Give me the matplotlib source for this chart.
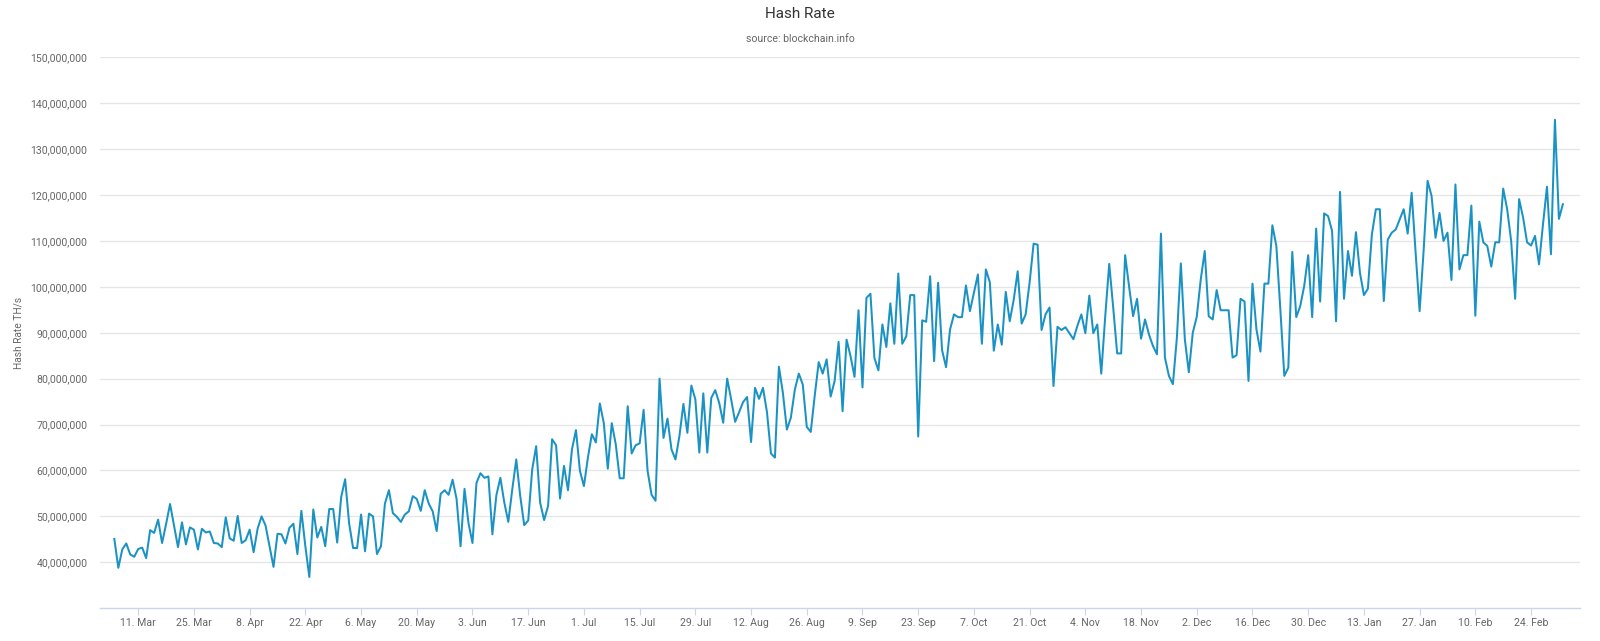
import matplotlib
matplotlib.use('Agg')
import matplotlib.pyplot as plt
import numpy as np
import pandas as pd
from matplotlib.ticker import FuncFormatter

plt.rcParams['font.family'] = ['Roboto', 'DejaVu Sans']

# ---------------- data ----------------
start_date = '2018-03-05'
# daily hash rate, millions of TH/s
hash_rate_millions = [
    45.1, 38.8, 42.8, 44.1, 41.7, 41.2, 42.9, 43.2, 40.9, 47.0,
    46.4, 49.3, 44.2, 48.3, 52.7, 48.0, 43.3, 48.7, 43.9, 47.6,
    47.1, 42.8, 47.3, 46.5, 46.7, 44.2, 44.1, 43.3, 49.8, 45.2,
    44.7, 50.1, 44.2, 44.8, 47.1, 42.2, 47.3, 50.0, 48.0, 43.5,
    39.0, 46.2, 46.1, 44.1, 47.5, 48.4, 41.8, 51.2, 43.5, 36.8,
    51.5, 45.4, 47.7, 43.5, 51.6, 51.6, 44.3, 54.2, 58.1, 48.5,
    43.1, 43.1, 50.4, 42.4, 50.6, 50.0, 41.8, 43.5, 52.8, 55.7,
    50.7, 49.9, 48.8, 50.4, 51.1, 54.4, 53.8, 51.2, 55.7, 52.8,
    51.1, 46.8, 54.9, 55.7, 54.7, 58.0, 53.8, 43.5, 56.0, 48.5,
    44.2, 57.3, 59.4, 58.4, 58.7, 46.1, 54.6, 58.4, 53.0, 48.8,
    55.9, 62.4, 54.4, 48.1, 49.1, 60.2, 65.3, 53.0, 49.2, 52.3,
    66.8, 65.5, 53.9, 61.0, 55.7, 64.6, 68.8, 59.9, 56.6, 62.8,
    67.9, 66.1, 74.6, 70.3, 60.4, 70.3, 65.7, 58.3, 58.3, 74.0,
    63.7, 65.5, 65.9, 73.2, 59.9, 54.7, 53.4, 80.0, 67.1, 71.3,
    64.6, 62.4, 67.5, 74.5, 68.2, 78.5, 75.5, 63.9, 76.8, 63.9,
    75.8, 77.5, 74.7, 70.4, 80.0, 75.5, 70.6, 72.7, 74.9, 76.0,
    66.2, 78.0, 75.6, 78.0, 72.7, 63.7, 62.8, 82.6, 76.9, 68.9,
    71.5, 77.6, 81.1, 78.7, 69.5, 68.4, 76.3, 83.6, 81.1, 84.2,
    76.1, 79.5, 88.0, 72.9, 88.5, 84.9, 80.4, 94.9, 78.1, 97.6,
    98.5, 84.5, 81.8, 91.8, 86.9, 96.4, 87.6, 102.9, 87.6, 89.2,
    98.2, 98.2, 67.4, 92.7, 92.4, 102.3, 83.8, 100.9, 86.2, 82.5,
    90.7, 94.0, 93.4, 93.4, 100.3, 94.7, 98.7, 102.7, 87.6, 103.8,
    101.0, 86.1, 91.8, 87.4, 98.9, 92.5, 97.2, 103.4, 92.0, 94.0,
    101.0, 109.4, 109.2, 90.6, 94.0, 95.5, 78.4, 91.3, 90.6, 91.2,
    89.9, 88.6, 91.5, 94.0, 89.9, 98.1, 89.9, 91.8, 81.1, 93.6,
    105.0, 95.5, 85.5, 85.5, 106.9, 100.0, 93.6, 97.4, 88.7, 92.9,
    89.6, 87.1, 85.3, 111.6, 84.6, 80.6, 78.8, 88.9, 105.1, 88.6,
    81.4, 90.0, 93.5, 101.6, 107.8, 93.6, 92.9, 99.3, 94.9, 94.9,
    94.9, 84.6, 85.1, 97.4, 96.8, 79.5, 100.7, 90.7, 85.9, 100.7,
    100.7, 113.4, 108.9, 95.1, 80.6, 82.4, 107.6, 93.4, 95.8, 100.2,
    106.9, 93.4, 112.7, 96.8, 116.0, 115.4, 112.2, 92.5, 120.7, 97.4,
    107.8, 102.4, 111.9, 103.1, 98.2, 99.6, 111.4, 116.9, 116.9, 96.9,
    110.3, 111.8, 112.5, 114.7, 116.9, 111.6, 120.5, 107.4, 94.7, 107.8,
    123.1, 119.8, 110.7, 116.1, 110.0, 111.8, 101.5, 122.3, 103.8, 106.9,
    106.9, 117.7, 93.7, 114.2, 109.7, 108.9, 104.4, 109.7, 109.7, 121.4,
    116.9, 110.0, 97.4, 119.1, 115.1, 109.7, 109.0, 111.1, 104.9, 113.6,
    121.8, 107.1, 136.4, 114.8, 118.0,
]

tick_dates = ['2018-03-11', '2018-03-25', '2018-04-08', '2018-04-22', '2018-05-06',
              '2018-05-20', '2018-06-03', '2018-06-17', '2018-07-01', '2018-07-15',
              '2018-07-29', '2018-08-12', '2018-08-26', '2018-09-09', '2018-09-23',
              '2018-10-07', '2018-10-21', '2018-11-04', '2018-11-18', '2018-12-02',
              '2018-12-16', '2018-12-30', '2019-01-13', '2019-01-27', '2019-02-10',
              '2019-02-24']
tick_labels = ['11. Mar', '25. Mar', '8. Apr', '22. Apr', '6. May', '20. May', '3. Jun',
               '17. Jun', '1. Jul', '15. Jul', '29. Jul', '12. Aug', '26. Aug', '9. Sep',
               '23. Sep', '7. Oct', '21. Oct', '4. Nov', '18. Nov', '2. Dec', '16. Dec',
               '30. Dec', '13. Jan', '27. Jan', '10. Feb', '24. Feb']
y_ticks = [40e6, 50e6, 60e6, 70e6, 80e6, 90e6, 100e6, 110e6, 120e6, 130e6, 140e6, 150e6]

title = 'Hash Rate'
subtitle = 'source: blockchain.info'
y_title = 'Hash Rate TH/s'

# ---------------- plot ----------------
W, H = 1600, 641
dates = pd.date_range(start_date, periods=len(hash_rate_millions), freq='D')
values = np.array(hash_rate_millions) * 1e6

fig = plt.figure(figsize=(W / 100, H / 100), dpi=100)
fig.patch.set_facecolor('white')
left, right, top, bottom = 100, 1580, 57.3, 608.2
ax = fig.add_axes([left / W, 1 - bottom / H, (right - left) / W, (bottom - top) / H])

ax.plot(dates, values, color='#1a93c4', lw=1.45, solid_joinstyle='round', zorder=3)

ax.set_ylim(30e6, 150e6)
t0 = pd.Timestamp(start_date)
ax.set_xlim(t0 - pd.Timedelta(hours=3.6 * 24), t0 + pd.Timedelta(hours=368.3 * 24))

ax.set_yticks(y_ticks)
ax.yaxis.set_major_formatter(FuncFormatter(lambda v, p: f'{int(round(v)):,}'))
ax.grid(axis='y', color='#e6e6e6', lw=1.0)
ax.set_axisbelow(True)

ax.set_xticks(pd.to_datetime(tick_dates))
ax.set_xticklabels(tick_labels)

for s in ['top', 'right', 'left']:
    ax.spines[s].set_visible(False)
ax.spines['bottom'].set_color('#ccd6eb')
ax.spines['bottom'].set_linewidth(1.0)

ax.tick_params(axis='y', length=0, pad=9, labelsize=7.6, labelcolor='#666666')
ax.tick_params(axis='x', length=5, width=0.8, color='#ccd6eb', pad=2,
               labelsize=7.6, labelcolor='#666666')

fig.text(0.5, 1 - 14 / H, title, ha='center', va='center', fontsize=11, color='#333333')
fig.text(0.5, 1 - 39 / H, subtitle, ha='center', va='center', fontsize=7.6, color='#666666')
fig.text(19 / W, 1 - 333 / H, y_title, rotation=90, ha='center', va='center',
         fontsize=7.4, color='#666666')

fig.savefig('out.png', dpi=100, facecolor='white')
